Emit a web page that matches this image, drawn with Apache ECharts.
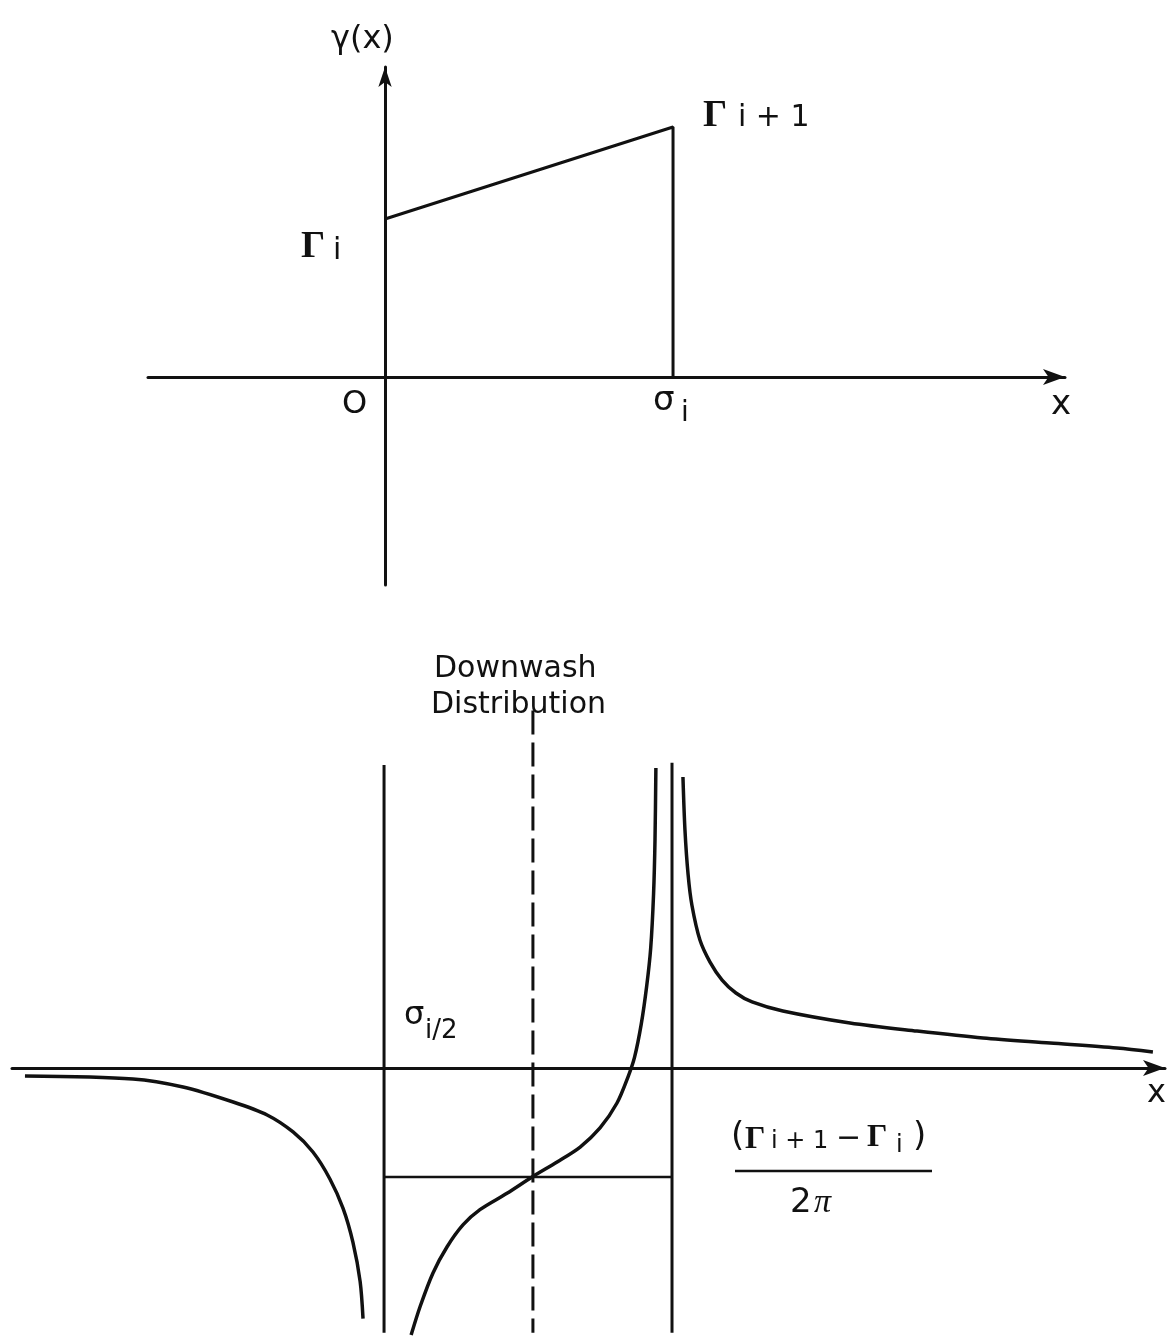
<!DOCTYPE html>
<html>
<head>
<meta charset="utf-8">
<script src="https://cdn.jsdelivr.net/npm/echarts@6/dist/echarts.min.js"></script>
<style>
html, body { margin: 0; background: #fff; }
#main { width: 1173px; height: 1342px; }
</style>
</head>
<body>
<div id="main"></div>
<script>
// top: vortex strength on one panel, x in units of sigma_i, gamma in units of Gamma_i
var panelX = [0, 1, 1];
var panelGamma = [1.0, 1.582, 0];

// bottom: downwash, x in units of sigma_i, w in units of (Gamma_i+1 - Gamma_i) / 2pi
var leftX = [-1.247, -0.872, -0.698, -0.524, -0.406, -0.316, -0.247, -0.188, -0.142, -0.108, -0.083, -0.073];
var leftW = [-0.073, -0.10, -0.174, -0.312, -0.431, -0.587, -0.771, -1.018, -1.29, -1.6, -1.96, -2.30];

var midX = [0.094, 0.125, 0.170, 0.219, 0.274, 0.333, 0.427, 0.514, 0.601, 0.681, 0.750, 0.809, 0.847, 0.870, 0.893, 0.912, 0.926, 0.936, 0.941, 0.944];
var midW = [-2.45, -2.19, -1.88, -1.64, -1.44, -1.30, -1.15, -1.0, -0.862, -0.725, -0.550, -0.321, -0.083, 0.10, 0.40, 0.75, 1.10, 1.60, 2.10, 2.752];

var rightX = [1.038, 1.045, 1.056, 1.069, 1.097, 1.132, 1.174, 1.222, 1.278, 1.385, 1.618, 1.851, 2.080, 2.313, 2.545, 2.670];
var rightW = [2.670, 2.183, 1.771, 1.495, 1.174, 0.972, 0.807, 0.688, 0.606, 0.523, 0.413, 0.339, 0.275, 0.229, 0.183, 0.147];

// panel edges and mid point guide lines
var edgeX = [0, 1];
var edgeTop = [2.78, 2.80];
var guideBottom = -2.43;
var halfX = 0.517;
var halfTop = 3.28;
var level = -1;

function zip(xs, ys) {
    return xs.map(function (x, i) { return [x, ys[i]]; });
}

var ink = '#111';

function line(data, grid, width, type) {
    return {
        type: 'line',
        xAxisIndex: grid,
        yAxisIndex: grid,
        data: data,
        symbol: 'none',
        silent: true,
        lineStyle: { color: ink, width: width, type: type || 'solid' }
    };
}

function curve(data) {
    var s = line(data, 1, 3.5);
    s.smooth = 0.3;
    return s;
}

function axisX(grid, min, max) {
    return {
        type: 'value', gridIndex: grid, min: min, max: max,
        axisLine: { show: true, onZero: true, symbol: ['none', 'arrow'], symbolSize: [12, 22],
            lineStyle: { color: ink, width: 3 } },
        axisTick: { show: false }, axisLabel: { show: false }, splitLine: { show: false }
    };
}

function txt(s, x, y, size, family, style) {
    return {
        type: 'text', x: x, y: y, silent: true,
        style: {
            text: s, fill: ink, textVerticalAlign: 'top',
            font: (style || '') + ' ' + size + 'px ' + (family || '"DejaVu Sans"')
        }
    };
}

var serif = '"Liberation Serif"';

var myChart = echarts.init(document.getElementById('main'));
option = {
    animation: false,
    grid: [
        { left: 148, top: 67, width: 917, height: 518 },
        { left: 12, top: 686.5, width: 1153, height: 654 }
    ],
    xAxis: [axisX(0, -0.823, 2.361), axisX(1, -1.292, 2.712)],
    yAxis: [
        {
            type: 'value', gridIndex: 0, min: -1.316, max: 1.962,
            axisLine: { show: true, onZero: true, symbol: ['none', 'arrow'], symbolSize: [10, 20],
                lineStyle: { color: ink, width: 3 } },
            axisTick: { show: false }, axisLabel: { show: false }, splitLine: { show: false }
        },
        {
            type: 'value', gridIndex: 1, min: -2.5, max: 3.5,
            axisLine: { show: false }, axisTick: { show: false },
            axisLabel: { show: false }, splitLine: { show: false }
        }
    ],
    series: [
        line(zip(panelX, panelGamma), 0, 3),
        line([[edgeX[0], edgeTop[0]], [edgeX[0], guideBottom]], 1, 3),
        line([[edgeX[1], edgeTop[1]], [edgeX[1], guideBottom]], 1, 3),
        line([[halfX, halfTop], [halfX, guideBottom]], 1, 3, [24, 8]),
        line([[edgeX[0], level], [edgeX[1], level]], 1, 2.5),
        curve(zip(leftX, leftW)),
        curve(zip(midX, midW)),
        curve(zip(rightX, rightW))
    ],
    graphic: [
        txt('γ(x)', 331, 24, 32),
        txt('Γ', 703, 97, 38, serif, 'bold'),
        txt('i + 1', 738, 103, 30),
        txt('Γ', 301, 228, 38, serif, 'bold'),
        txt('i', 333, 236, 30),
        txt('O', 342, 389, 32),
        txt('σ', 653, 384, 34),
        txt('i', 681, 400, 28),
        txt('x', 1051, 388, 34),
        txt('Downwash', 434, 654, 30),
        txt('Distribution', 431, 690, 30),
        txt('σ', 404, 1000, 32),
        txt('i/2', 425, 1018, 26),
        txt('x', 1147, 1078, 32),
        txt('(', 731, 1120, 34),
        txt('Γ', 745, 1124, 32, serif, 'bold'),
        txt('i + 1', 771, 1130, 24),
        txt('−', 836, 1124, 30),
        txt('Γ', 867, 1122, 32, serif, 'bold'),
        txt('i', 896, 1134, 24),
        txt(')', 913, 1120, 34),
        {
            type: 'line', silent: true,
            shape: { x1: 735, y1: 1171, x2: 932, y2: 1171 },
            style: { stroke: ink, lineWidth: 2.5 }
        },
        txt('2', 790, 1186, 34),
        txt('π', 814, 1186, 34, serif, 'italic')
    ]
};
myChart.setOption(option);
</script>
</body>
</html>
